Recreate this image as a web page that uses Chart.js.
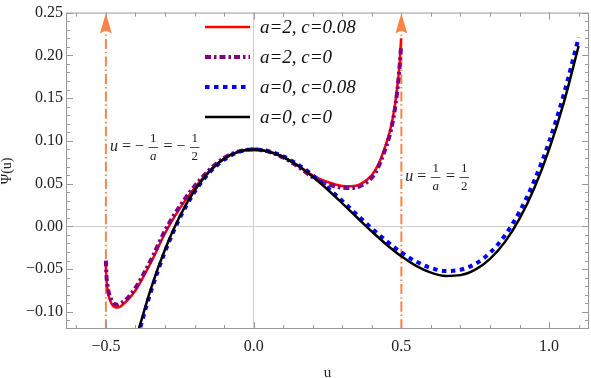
<!DOCTYPE html>
<html>
<head>
<meta charset="utf-8">
<script src="https://cdn.jsdelivr.net/npm/chart.js@4.4.1/dist/chart.umd.min.js"></script>
<style>
  body { margin: 0; background: #fff; }
  #wrap { width: 591px; height: 378px; }
</style>
</head>
<body>
<div id="wrap"><canvas id="psiChart" width="591" height="378"></canvas></div>
<script>
// --- DATA ---
const uA2 = [-0.5, -0.498, -0.495, -0.49, -0.48, -0.47, -0.46, -0.45, -0.43, -0.40, -0.37, -0.34, -0.30, -0.25, -0.20, -0.15, -0.10, -0.05,
             0, 0.05, 0.10, 0.15, 0.20, 0.25, 0.30, 0.33, 0.36, 0.40, 0.42, 0.44, 0.46, 0.47, 0.48, 0.49, 0.495, 0.499];
const psiA2C008 = [-0.046, -0.062, -0.072, -0.082, -0.091, -0.0945, -0.095, -0.0935, -0.0875, -0.075, -0.057, -0.037, -0.008, 0.021, 0.045, 0.0645, 0.0792, 0.0875,
                   0.09, 0.0876, 0.0812, 0.0712, 0.0595, 0.052, 0.0472, 0.0468, 0.049, 0.060, 0.071, 0.088, 0.110, 0.125, 0.146, 0.175, 0.195, 0.22];
const psiA2C0 = [-0.040, -0.058, -0.068, -0.078, -0.087, -0.091, -0.0915, -0.090, -0.085, -0.072, -0.054, -0.034, -0.005, 0.0235, 0.047, 0.066, 0.080, 0.0878,
                 0.09, 0.0874, 0.0805, 0.070, 0.0575, 0.0495, 0.0452, 0.0448, 0.047, 0.057, 0.068, 0.085, 0.106, 0.121, 0.142, 0.171, 0.192, 0.21];

const uA0 = [-0.40, -0.35, -0.30, -0.25, -0.20, -0.15, -0.10, -0.05, 0, 0.05, 0.10, 0.15, 0.20, 0.25, 0.30, 0.35, 0.40, 0.45, 0.50,
             0.55, 0.60, 0.65, 0.70, 0.75, 0.80, 0.85, 0.90, 0.95, 1.00, 1.05, 1.10];
const psiA0C008 = [-0.138, -0.0786, -0.0297, 0.0097, 0.0402, 0.0628, 0.0781, 0.087, 0.09, 0.088, 0.0819, 0.0723, 0.0598, 0.0454, 0.0297, 0.0136, -0.0024, -0.0173, -0.0305,
                   -0.0411, -0.0486, -0.0521, -0.0507, -0.0439, -0.0308, -0.0108, 0.0171, 0.0535, 0.099, 0.1546, 0.2209];
const psiA0C0 = [-0.134, -0.0754, -0.027, 0.0119, 0.042, 0.0641, 0.079, 0.0874, 0.09, 0.0876, 0.081, 0.0709, 0.058, 0.0431, 0.027, 0.0104, -0.006, -0.0214, -0.035,
                 -0.0461, -0.054, -0.0579, -0.057, -0.0506, -0.038, -0.0184, 0.009, 0.0449, 0.09, 0.1451, 0.211];

const arrowU = [-0.5, 0.5];        // u = -1/a and u = 1/a
const arrowPsi = [-0.12, 0.229];   // vertical extent of the arrow shafts
const arrowTip = 0.249;

const xTicks = [-0.5, 0, 0.5, 1.0];
const yTicks = [-0.10, -0.05, 0, 0.05, 0.10, 0.15, 0.20, 0.25];
const xRange = [-0.635, 1.135];
const yRange = [-0.12, 0.25];

const SERIF = '"Liberation Serif", "Times New Roman", serif';
const ORANGE = 'rgb(250,132,72)';
const pts = (us, vs) => us.map((u, i) => ({ x: u, y: vs[i] }));
const minus = s => s.replace('-', '\u2212');

// --- DATASETS ---
const datasets = [
  { label: 'a=2, c=0.08', data: pts(uA2, psiA2C008), borderColor: '#ff0000', borderWidth: 2.5, order: 4, legend: true },
  { label: 'a=2, c=0', data: pts(uA2, psiA2C0), borderColor: '#800080', borderWidth: 4, borderDash: [6, 3, 2.5, 3], order: 3, legend: true },
  { label: 'a=0, c=0.08', data: pts(uA0, psiA0C008), borderColor: '#0000ff', borderWidth: 4, borderDash: [4.5, 4.5], order: 2, legend: true },
  { label: 'a=0, c=0', data: pts(uA0, psiA0C0), borderColor: '#000000', borderWidth: 2.5, order: 1, legend: true }
];
arrowU.forEach(u => datasets.push({
  label: 'arrow', data: arrowPsi.map(v => ({ x: u, y: v })),
  borderColor: ORANGE, borderWidth: 2, borderDash: [10, 3, 1.5, 3], order: 5, legend: false
}));
datasets.forEach(d => Object.assign(d, { showLine: true, pointRadius: 0, fill: false, clip: 0, cubicInterpolationMode: 'monotone' }));

// --- PLUGINS ---
function seg(ctx, x1, y1, x2, y2) { ctx.beginPath(); ctx.moveTo(x1, y1); ctx.lineTo(x2, y2); ctx.stroke(); }

const frameTicks = {
  id: 'frameTicks',
  afterDatasetsDraw(chart) {
    const { ctx, chartArea: a, scales: { x, y } } = chart;
    ctx.save();
    ctx.strokeStyle = '#9a9a9a';
    ctx.lineWidth = 1;
    ctx.strokeRect(a.left + 0.5, a.top + 0.5, a.right - a.left - 1, a.bottom - a.top - 1);
    for (let i = -6; i <= 11; i++) {
      const px = Math.round(x.getPixelForValue(i / 10)) + 0.5;
      if (px <= a.left || px >= a.right) continue;
      const len = i % 5 === 0 ? 7 : 4;
      seg(ctx, px, a.bottom, px, a.bottom - len);
      seg(ctx, px, a.top, px, a.top + len);
    }
    for (let j = -12; j <= 25; j++) {
      const py = Math.round(y.getPixelForValue(j / 100)) + 0.5;
      if (py < a.top || py > a.bottom) continue;
      const len = j % 5 === 0 ? 7 : 4;
      seg(ctx, a.left, py, a.left + len, py);
      seg(ctx, a.right, py, a.right - len, py);
    }
    // arrow heads
    ctx.fillStyle = ORANGE;
    arrowU.forEach(u => {
      const px = x.getPixelForValue(u), tip = y.getPixelForValue(arrowTip);
      ctx.beginPath();
      ctx.moveTo(px, tip);
      ctx.lineTo(px + 6, tip + 20);
      ctx.lineTo(px, tip + 17);
      ctx.lineTo(px - 6, tip + 20);
      ctx.closePath();
      ctx.fill();
    });
    ctx.restore();
  }
};

// small equation typesetter: objects are text runs, arrays are stacked fractions
function drawEq(ctx, x, y, tokens) {
  ctx.textBaseline = 'middle';
  ctx.fillStyle = '#222';
  tokens.forEach(t => {
    if (Array.isArray(t)) {
      ctx.font = 'italic 13px ' + SERIF;
      const w = Math.max(ctx.measureText(t[0]).width, ctx.measureText(t[1]).width) + 4;
      ctx.textAlign = 'center';
      ctx.font = (t[0] === 'a' ? 'italic ' : '') + '13px ' + SERIF;
      ctx.fillText(t[0], x + w / 2, y - 8.5);
      ctx.font = (t[1] === 'a' ? 'italic ' : '') + '13px ' + SERIF;
      ctx.fillText(t[1], x + w / 2, y + 9.5);
      ctx.fillRect(x + 0.5, y, w - 1, 0.8);
      ctx.textAlign = 'left';
      x += w + 1;
    } else {
      ctx.font = (t.it ? 'italic ' : '') + '16px ' + SERIF;
      ctx.textAlign = 'left';
      ctx.fillText(t.s, x, y);
      x += ctx.measureText(t.s).width;
    }
  });
}

const notes = {
  id: 'notes',
  afterDraw(chart) {
    const { ctx, scales: { x } } = chart;
    ctx.save();
    drawEq(ctx, x.getPixelForValue(-0.5) + 4, 147, [{ s: 'u', it: true }, { s: ' = \u2212 ' }, ['1', 'a'], { s: ' = \u2212 ' }, ['1', '2']]);
    drawEq(ctx, x.getPixelForValue(0.5) + 4, 177, [{ s: 'u', it: true }, { s: ' = ' }, ['1', 'a'], { s: ' = ' }, ['1', '2']]);
    // legend
    const rows = chart.data.datasets.filter(d => d.legend);
    rows.forEach((d, i) => {
      const ly = 27 + i * 30;
      ctx.strokeStyle = d.borderColor;
      ctx.lineWidth = d.borderWidth;
      ctx.setLineDash(d.borderDash || []);
      seg(ctx, 205, ly, 250, ly);
      ctx.setLineDash([]);
      ctx.fillStyle = '#111';
      ctx.font = 'italic 19px ' + SERIF;
      ctx.textAlign = 'left';
      ctx.textBaseline = 'middle';
      ctx.fillText(d.label, 260, ly + 1);
    });
    ctx.restore();
  }
};

// --- CHART ---
const ctx = document.getElementById('psiChart').getContext('2d');
new Chart(ctx, {
  type: 'scatter',
  data: { datasets },
  options: {
    responsive: false,
    animation: false,
    devicePixelRatio: 1,
    layout: { padding: { top: 5, right: 2, left: 0, bottom: 0 } },
    plugins: { legend: { display: false }, tooltip: { enabled: false } },
    scales: {
      x: {
        type: 'linear', min: xRange[0], max: xRange[1],
        afterBuildTicks: s => { s.ticks = xTicks.map(v => ({ value: v })); },
        afterFit: s => { s.height = 49; },
        ticks: { callback: v => minus(v.toFixed(1)), font: { family: SERIF, size: 16 }, color: '#222', padding: 8, maxRotation: 0 },
        grid: { drawTicks: false, color: c => (c.tick && c.tick.value === 0 ? '#cfcfcf' : 'transparent') },
        border: { display: false },
        title: { display: true, text: 'u', font: { family: SERIF, size: 15, lineHeight: 1 }, color: '#222', padding: { top: 0, bottom: -3 } }
      },
      y: {
        type: 'linear', min: yRange[0], max: yRange[1],
        afterBuildTicks: s => { s.ticks = yTicks.map(v => ({ value: v })); },
        afterFit: s => { s.width = 66; },
        ticks: { callback: v => minus(v.toFixed(2)), font: { family: SERIF, size: 16 }, color: '#222', padding: 3 },
        grid: { drawTicks: false, color: c => (c.tick && c.tick.value === 0 ? '#cfcfcf' : 'transparent') },
        border: { display: false },
        title: { display: true, text: '\u03a8(u)', font: { family: SERIF, size: 14, lineHeight: 1 }, color: '#222', padding: { top: 0, bottom: 0 } }
      }
    }
  },
  plugins: [frameTicks, notes]
});
</script>
</body>
</html>
